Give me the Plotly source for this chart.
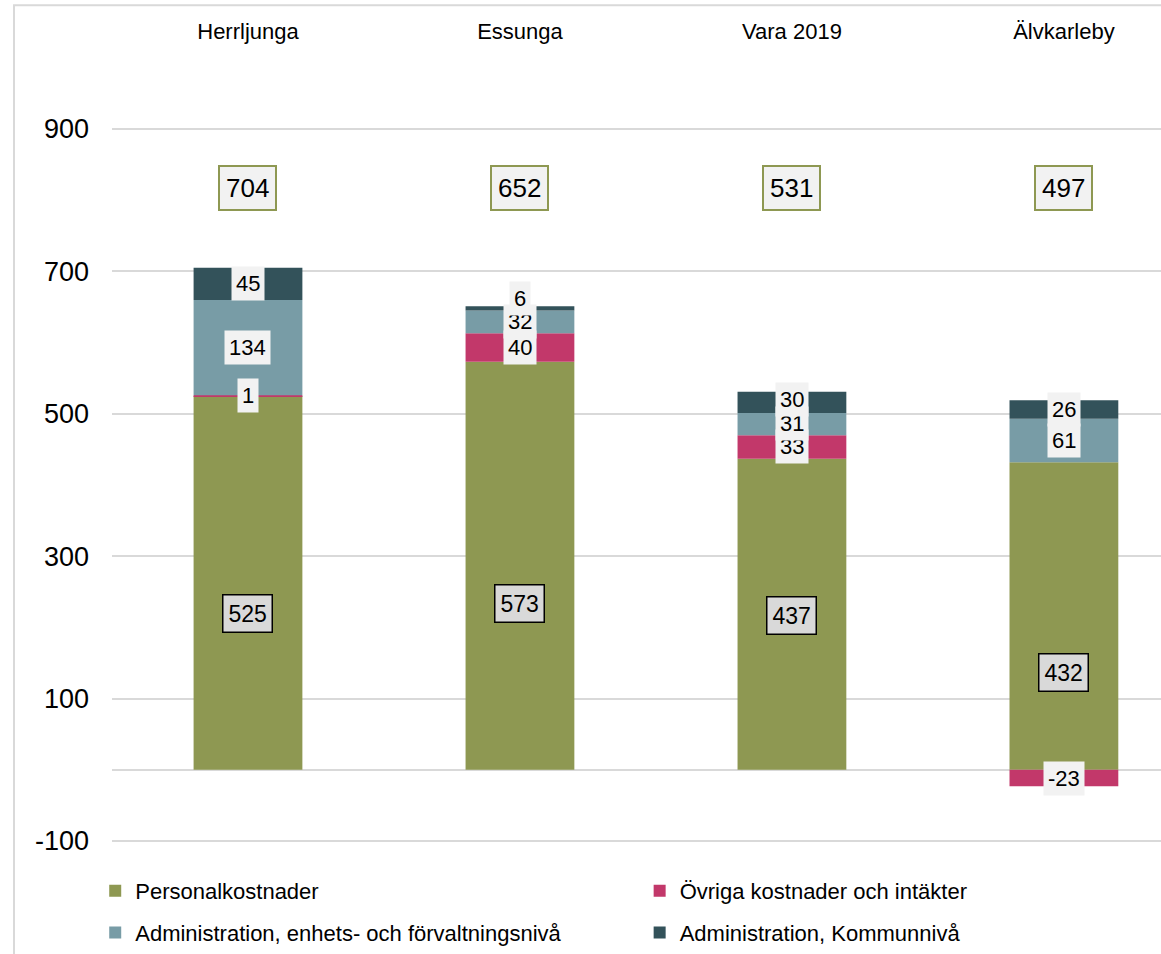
import plotly.graph_objects as go

# values
categories = ["Herrljunga", "Essunga", "Vara 2019", "Älvkarleby"]
personal = [525, 573, 437, 432]
ovriga = [1, 40, 33, -23]
adm_enhet = [134, 32, 31, 61]
adm_kommun = [45, 6, 30, 26]
totals = [704, 652, 531, 497]
yticks = [-100, 100, 300, 500, 700, 900]
ytick_labels = ["-100", "100", "300", "500", "700", "900"]

series = [
    ("Personalkostnader", personal, "#8E9852", "legend"),
    ("Övriga kostnader och intäkter", ovriga, "#C2386A", "legend2"),
    ("Administration, enhets- och förvaltningsnivå", adm_enhet, "#789CA6", "legend"),
    ("Administration, Kommunnivå", adm_kommun, "#33525A", "legend2"),
]

FONT = "Liberation Sans, Arial, sans-serif"
xpos = list(range(len(categories)))

fig = go.Figure()
for name, vals, color, leg in series:
    fig.add_trace(
        go.Bar(
            x=xpos,
            y=vals,
            name=name,
            marker_color=color,
            marker_line_width=0,
            width=0.4,
            legend=leg,
            legendgroup=name,
            hoverinfo="skip",
        )
    )

annotations = []

# totals above the bars, in framed boxes
for i, t in enumerate(totals):
    annotations.append(dict(
        x=i, y=817, text=str(t), showarrow=False,
        font=dict(family=FONT, size=26, color="#000"),
        bgcolor="#F2F2F2", bordercolor="#8E9852", borderwidth=2, borderpad=6,
    ))

# Personalkostnader labels (placed by hand in the original)
personal_label_y = [220, 234, 217, 136]
for i, v in enumerate(personal):
    annotations.append(dict(
        x=i, y=personal_label_y[i], text=str(v), showarrow=False,
        font=dict(family=FONT, size=23, color="#000"),
        bgcolor="#D9D9D9", bordercolor="#000", borderwidth=1.5, borderpad=5,
    ))

# labels of the smaller segments, pushed apart when they collide
gap = 33
for i in xpos:
    top = personal[i]
    prev = None
    for vals in (ovriga, adm_enhet, adm_kommun):
        v = vals[i]
        if v < 0:
            y = v / 2
        else:
            y = top + v / 2
            if prev is not None:
                y = max(y, prev + gap)
            top += v
            prev = y
        annotations.append(dict(
            x=i, y=y, text=str(v), showarrow=False,
            font=dict(family=FONT, size=22, color="#000"),
            bgcolor="#F2F2F2", borderpad=4,
        ))

legend_style = dict(
    y=-0.0065, xanchor="left", yanchor="top",
    font=dict(family=FONT, size=22, color="#000"),
    tracegroupgap=10, itemwidth=30, bgcolor="rgba(0,0,0,0)",
)

fig.update_layout(
    barmode="relative",
    width=1161,
    height=954,
    margin=dict(l=112, r=0, t=50, b=89),
    paper_bgcolor="white",
    plot_bgcolor="white",
    font=dict(family=FONT, color="#000"),
    annotations=annotations,
    legend=dict(x=-0.016, **legend_style),
    legend2=dict(x=0.503, **legend_style),
    shapes=[dict(
        type="rect", xref="paper", yref="paper",
        x0=-0.0934, x1=1.05, y0=-0.3, y1=1.055,
        line=dict(color="#D9D9D9", width=2), fillcolor="rgba(0,0,0,0)",
    )],
)

fig.update_xaxes(
    side="top",
    tickvals=xpos,
    ticktext=categories,
    range=[-0.5, 3.357],
    showgrid=False,
    showline=False,
    zeroline=False,
    ticks="",
    tickfont=dict(family=FONT, size=22, color="#000"),
    ticklabelstandoff=6,
    automargin=False,
)
fig.update_yaxes(
    range=[-133.7, 1011],
    tickvals=yticks,
    ticktext=ytick_labels,
    showgrid=True,
    gridcolor="#D9D9D9",
    gridwidth=2,
    zeroline=True,
    zerolinecolor="#D9D9D9",
    zerolinewidth=2,
    showline=False,
    ticks="",
    tickfont=dict(family=FONT, size=27, color="#000"),
    ticklabelstandoff=22,
    automargin=False,
)

# the page's default body margin would shift the figure by 8px
fig.write_html(
    "out.html",
    config={"displayModeBar": False},
    post_script="document.body.style.margin = '0px';",
)
